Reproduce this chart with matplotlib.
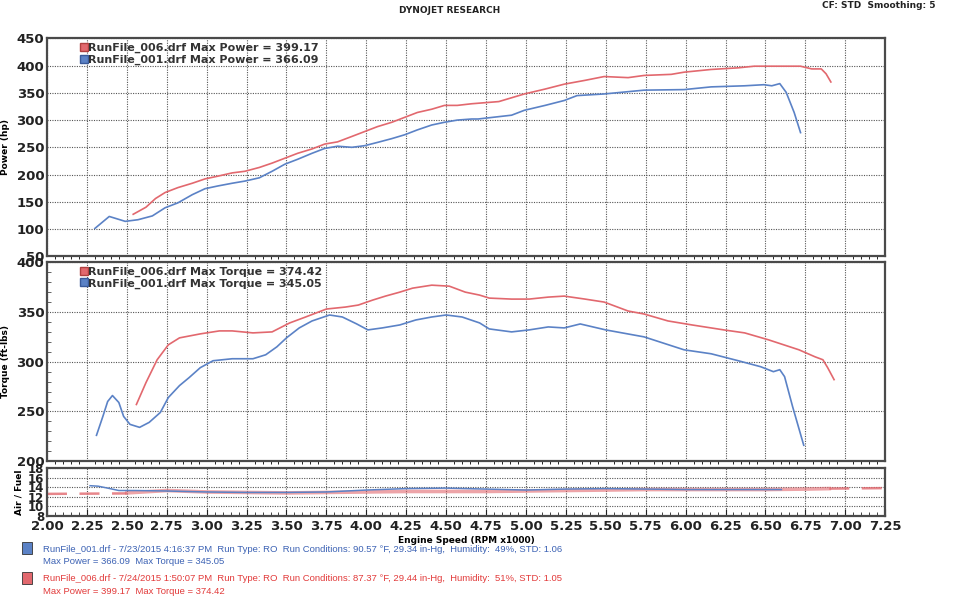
import matplotlib
matplotlib.use("Agg")
import matplotlib.pyplot as plt
from matplotlib.lines import Line2D
from matplotlib.ticker import MultipleLocator, FormatStrFormatter

# ---- data ----
blue_pwr_rpm = [2.30, 2.39, 2.49, 2.57, 2.66, 2.74, 2.82, 2.91, 2.99, 3.07, 3.16, 3.24, 3.33, 3.41,
                3.49, 3.57, 3.66, 3.74, 3.82, 3.91, 3.99, 4.07, 4.16, 4.24, 4.32, 4.41, 4.49, 4.57,
                4.66, 4.70, 4.91, 4.99, 5.12, 5.24, 5.32, 5.49, 5.74, 5.99, 6.16, 6.37, 6.49, 6.54,
                6.59, 6.63, 6.68, 6.72]
blue_pwr = [101, 123, 114, 117, 124, 139, 148, 163, 174, 179, 184, 188, 194, 206,
            219, 228, 239, 248, 252, 250, 253, 259, 266, 273, 282, 291, 296, 300,
            302, 302, 309, 318, 327, 336, 345, 348, 355, 356, 361, 363, 365, 363,
            367, 351, 314, 277]

red_pwr_rpm = [2.54, 2.62, 2.68, 2.74, 2.82, 2.91, 2.99, 3.07, 3.16, 3.24, 3.33, 3.41, 3.49, 3.57,
               3.66, 3.74, 3.82, 3.91, 3.99, 4.07, 4.16, 4.24, 4.32, 4.41, 4.49, 4.57, 4.66, 4.83,
               4.99, 5.12, 5.24, 5.37, 5.49, 5.64, 5.74, 5.91, 5.99, 6.16, 6.33, 6.43, 6.58, 6.72,
               6.79, 6.85, 6.88, 6.91]
red_pwr = [127, 140, 156, 167, 176, 184, 192, 197, 203, 206, 213, 221, 230, 239,
           247, 256, 260, 270, 279, 288, 296, 305, 314, 320, 327, 327, 330, 334,
           348, 357, 366, 373, 380, 378, 382, 384, 388, 393, 396, 399, 399, 399,
           394, 394, 385, 370]

blue_tq_rpm = [2.31, 2.35, 2.38, 2.41, 2.45, 2.48, 2.52, 2.58, 2.64, 2.71, 2.76, 2.83, 2.89, 2.96,
               3.04, 3.16, 3.29, 3.37, 3.44, 3.50, 3.58, 3.66, 3.77, 3.85, 3.94, 4.01, 4.10, 4.21,
               4.31, 4.41, 4.50, 4.60, 4.71, 4.77, 4.91, 5.02, 5.14, 5.24, 5.34, 5.50, 5.74, 5.99,
               6.16, 6.33, 6.47, 6.55, 6.59, 6.62, 6.67, 6.74]
blue_tq = [226, 245, 260, 266, 259, 245, 237, 234, 239, 249, 264, 276, 284, 294,
           301, 303, 303, 307, 315, 324, 334, 341, 347, 345, 338, 332, 334, 337,
           342, 345, 347, 345, 339, 333, 330, 332, 335, 334, 338, 332, 325, 312,
           308, 301, 295, 290, 292, 285, 255, 216]

red_tq_rpm = [2.56, 2.62, 2.69, 2.76, 2.83, 2.96, 3.08, 3.16, 3.29, 3.41, 3.52, 3.62, 3.75, 3.87,
              3.95, 4.04, 4.12, 4.21, 4.29, 4.41, 4.52, 4.62, 4.71, 4.77, 4.91, 5.02, 5.14, 5.24,
              5.37, 5.49, 5.64, 5.74, 5.89, 6.04, 6.24, 6.37, 6.52, 6.71, 6.81, 6.86, 6.89, 6.93]
red_tq = [257, 279, 302, 317, 324, 328, 331, 331, 329, 330, 339, 345, 353, 355,
          357, 362, 366, 370, 374, 377, 376, 370, 367, 364, 363, 363, 365, 366,
          363, 360, 351, 348, 341, 337, 332, 329, 322, 312, 305, 302, 294, 282]

blue_afr_rpm = [2.27, 2.32, 2.38, 2.45, 2.55, 2.75, 3.00, 3.25, 3.50, 3.75, 4.00, 4.25, 4.50,
                4.75, 5.00, 5.25, 5.50, 5.75, 6.00, 6.25, 6.50, 6.60]
blue_afr = [14.3, 14.2, 13.8, 13.3, 13.3, 13.2, 13.0, 12.9, 12.9, 13.0, 13.4, 13.7, 13.8,
            13.6, 13.4, 13.6, 13.7, 13.6, 13.5, 13.5, 13.5, 13.5]
red_afr_rpm = [2.50, 2.75, 3.00, 3.25, 3.50, 3.75, 4.00, 4.25, 4.50, 4.75, 5.00, 5.25, 5.50,
               5.75, 6.00, 6.25, 6.50, 6.75, 6.90]
red_afr = [12.8, 13.3, 13.0, 12.9, 12.8, 12.9, 13.0, 13.1, 13.1, 13.1, 13.2, 13.3, 13.4,
           13.5, 13.5, 13.5, 13.5, 13.6, 13.7]
red_afr_pre_rpm = [2.00, 2.50]
red_afr_pre = [12.6, 12.7]
red_afr_post_rpm = [6.90, 7.25]
red_afr_post = [13.7, 13.8]

pwr_labels = ["RunFile_006.drf Max Power = 399.17", "RunFile_001.drf Max Power = 366.09"]
tq_labels = ["RunFile_006.drf Max Torque = 374.42", "RunFile_001.drf Max Torque = 345.05"]
run_info = [
    ("RunFile_001.drf - 7/23/2015 4:16:37 PM  Run Type: RO  Run Conditions: 90.57 °F, 29.34 in-Hg,  Humidity:  49%, STD: 1.06",
     "Max Power = 366.09  Max Torque = 345.05"),
    ("RunFile_006.drf - 7/24/2015 1:50:07 PM  Run Type: RO  Run Conditions: 87.37 °F, 29.44 in-Hg,  Humidity:  51%, STD: 1.05",
     "Max Power = 399.17  Max Torque = 374.42"),
]

BLUE = "#5b82c6"
RED = "#e2686e"
BLUE_TXT = "#3c62b4"
RED_TXT = "#e23a3a"
GRID = "#555555"
FRAME = "#4a4a4a"

fig = plt.figure(figsize=(9.59, 6.10), dpi=100)
fig.patch.set_facecolor("white")

left, width = 0.049, 0.874
ax_p = fig.add_axes([left, 0.580, width, 0.357])
ax_t = fig.add_axes([left, 0.244, width, 0.326], sharex=ax_p)
ax_a = fig.add_axes([left, 0.154, width, 0.079], sharex=ax_p)


def style(ax, size=9.5):
    for s in ax.spines.values():
        s.set_color(FRAME)
        s.set_linewidth(1.6)
    ax.grid(True, which="major", linestyle=(0, (1, 1.2)), color=GRID, linewidth=0.8)
    ax.set_axisbelow(True)
    ax.tick_params(axis="y", labelsize=size, length=0, pad=2, colors="#222222")
    for t in ax.get_yticklabels():
        t.set_fontweight("bold")


# power
ax_p.plot(blue_pwr_rpm, blue_pwr, color=BLUE, lw=1.2)
ax_p.plot(red_pwr_rpm, red_pwr, color=RED, lw=1.2)
ax_p.set_ylim(50, 450)
ax_p.yaxis.set_major_locator(MultipleLocator(50))
ax_p.set_ylabel("Power (hp)", fontsize=6.5, fontweight="bold", labelpad=5)

# torque
ax_t.plot(blue_tq_rpm, blue_tq, color=BLUE, lw=1.2)
ax_t.plot(red_tq_rpm, red_tq, color=RED, lw=1.2)
ax_t.set_ylim(200, 400)
ax_t.yaxis.set_major_locator(MultipleLocator(50))
ax_t.yaxis.set_minor_locator(MultipleLocator(10))
ax_t.set_ylabel("Torque (ft-lbs)", fontsize=6.5, fontweight="bold", labelpad=5)

# air / fuel
ax_a.plot(red_afr_pre_rpm, red_afr_pre, color=RED, lw=1.8, alpha=0.8, dashes=(8, 5))
ax_a.plot(red_afr_post_rpm, red_afr_post, color=RED, lw=1.8, alpha=0.8, dashes=(8, 5))
ax_a.plot(red_afr_rpm, red_afr, color=RED, lw=2.6, alpha=0.6)
ax_a.plot(blue_afr_rpm, blue_afr, color=BLUE, lw=1.1)
ax_a.set_ylim(8, 18)
ax_a.yaxis.set_major_locator(MultipleLocator(2))
ax_a.set_ylabel("Air / Fuel", fontsize=6.5, fontweight="bold", labelpad=3)

ax_p.set_xlim(2.0, 7.25)
ax_p.xaxis.set_major_locator(MultipleLocator(0.25))
ax_a.xaxis.set_minor_locator(MultipleLocator(0.05))

style(ax_p)
style(ax_t)
style(ax_a, size=8.5)
for ax in (ax_p, ax_t):
    ax.tick_params(axis="x", labelbottom=False, length=0)
ax_t.tick_params(axis="y", which="minor", length=3, direction="in", color=FRAME)
ax_a.tick_params(axis="x", which="major", direction="in", length=5, labelsize=9.5,
                 pad=3, colors="#222222")
ax_a.tick_params(axis="x", which="minor", direction="in", length=3, color="#222222")
ax_a.xaxis.set_major_formatter(FormatStrFormatter("%.2f"))
for t in ax_a.get_xticklabels():
    t.set_fontweight("bold")
ax_a.set_xlabel("Engine Speed (RPM x1000)", fontsize=6.5, fontweight="bold", labelpad=2)

# in-panel legends
for ax, labels in ((ax_p, pwr_labels), (ax_t, tq_labels)):
    handles = [Line2D([], [], marker="s", ls="none", markersize=6, markerfacecolor=RED,
                      markeredgecolor="#b04040"),
               Line2D([], [], marker="s", ls="none", markersize=6, markerfacecolor=BLUE,
                      markeredgecolor="#3a5a9a")]
    leg = ax.legend(handles, labels, loc="upper left", bbox_to_anchor=(0.035, 1.0),
                    frameon=False, handlelength=0.5, handletextpad=0.15, labelspacing=0.12,
                    borderaxespad=0.0, prop={"weight": "bold", "size": 8})
    for t in leg.get_texts():
        t.set_color("#333333")

# header
fig.text(0.469, 0.983, "DYNOJET RESEARCH", ha="center", va="center", fontsize=6.5,
         fontweight="bold", color="#222222")
fig.text(0.975, 0.991, "CF: STD  Smoothing: 5", ha="right", va="center", fontsize=6.5,
         fontweight="bold", color="#222222")

# run info block
colors = [(BLUE, BLUE_TXT), (RED, RED_TXT)]
ys = [0.100, 0.052]
for (line1, line2), (sq, tc), y in zip(run_info, colors, ys):
    fig.patches.append(plt.Rectangle((0.023, y - 0.009), 0.010, 0.020, transform=fig.transFigure,
                                     facecolor=sq, edgecolor="#333333", lw=0.6))
    fig.text(0.045, y, line1, fontsize=6.8, color=tc, family="Liberation Sans", va="center")
    fig.text(0.045, y - 0.021, line2, fontsize=6.8, color=tc, family="Liberation Sans", va="center")

fig.savefig("out.png", dpi=100)
